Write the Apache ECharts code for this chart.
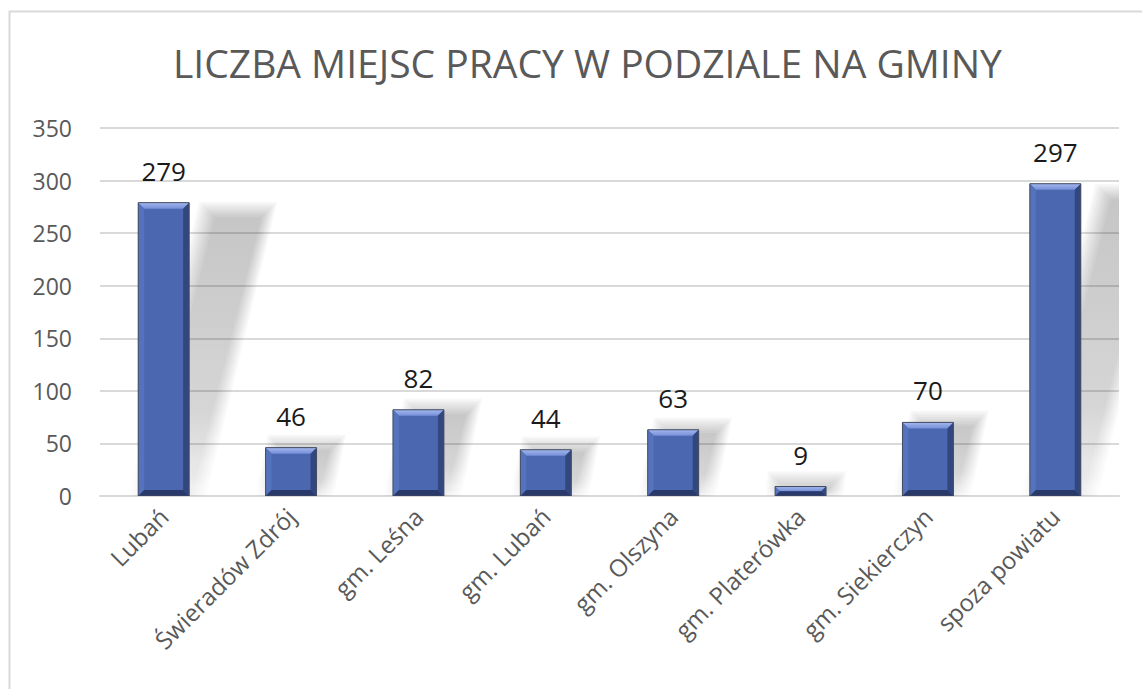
<!DOCTYPE html>
<html>
<head>
<meta charset="utf-8">
<script src="https://cdn.jsdelivr.net/npm/echarts@6/dist/echarts.min.js"></script>
<style>
html,body{margin:0;padding:0;background:#fff;}
#chart{width:1142px;height:689px;}
</style>
</head>
<body>
<div id="chart"></div>
<script>
const titleText = 'LICZBA MIEJSC PRACY W PODZIALE NA GMINY';
const categories = ['Lubań','Świeradów Zdrój','gm. Leśna','gm. Lubań','gm. Olszyna','gm. Platerówka','gm. Siekierczyn','spoza powiatu'];
const values = [279, 46, 82, 44, 63, 9, 70, 297];
const yMin = 0, yMax = 350, yInterval = 50;

const FONT = '"Open Sans", "DejaVu Sans", sans-serif';
const chart = echarts.init(document.getElementById('chart'), null, {renderer: 'svg'});

function renderBar(params, api) {
  const idx = api.value(0);
  const v = api.value(1);
  const top = api.coord([idx, v]);
  const base = api.coord([idx, 0]);
  const w = api.size([1, 0])[0] * 0.40;
  const x0 = top[0] - w / 2, x1 = top[0] + w / 2;
  const yt = top[1], yb = base[1];
  const h = yb - yt;
  const b = Math.min(6, h / 2);
  const skew = h * 0.24;
  const sTop = yt + h * 0.05;
  const children = [];
  const layers = 8;
  for (let i = 0; i < layers; i++) {
    const d = i * 2.2;
    const a = 0.032;
    children.push({
      type: 'polygon',
      shape: {points: [
        [x0 + 6 - d, yb],
        [x1 + 2 + d, yb],
        [x1 + skew + 2 + d, sTop - d],
        [x0 + skew + 6 - d, sTop - d]
      ]},
      style: {
        fill: new echarts.graphic.LinearGradient(0, 0, 0, 1, [
          {offset: 0, color: 'rgba(0,0,0,' + a + ')'},
          {offset: 0.7, color: 'rgba(0,0,0,' + (a * 0.7) + ')'},
          {offset: 1, color: 'rgba(0,0,0,' + (a * 0.25) + ')'}
        ])
      },
      z2: 1
    });
  }
  children.push(
    {
      type: 'rect',
      shape: {x: x0, y: yt, width: w, height: h},
      style: {fill: '#4a67b0'},
      z2: 2
    },
    {
      type: 'polygon',
      shape: {points: [[x0, yt], [x1, yt], [x1 - b, yt + b], [x0 + b, yt + b]]},
      style: {fill: new echarts.graphic.LinearGradient(0, 0, 0, 1, [
        {offset: 0, color: '#a4b8ef'}, {offset: 1, color: '#7690d8'}])},
      z2: 3
    },
    {
      type: 'polygon',
      shape: {points: [[x0, yt], [x0 + b, yt + b], [x0 + b, yb - b], [x0, yb]]},
      style: {fill: '#5573bd'},
      z2: 3
    },
    {
      type: 'polygon',
      shape: {points: [[x1, yt], [x1 - b, yt + b], [x1 - b, yb - b], [x1, yb]]},
      style: {fill: '#33477f'},
      z2: 3
    },
    {
      type: 'polygon',
      shape: {points: [[x0, yb], [x1, yb], [x1 - b, yb - b], [x0 + b, yb - b]]},
      style: {fill: '#28396a'},
      z2: 3
    },
    {
      type: 'rect',
      shape: {x: x0, y: yt, width: w, height: h},
      style: {fill: 'none', stroke: '#454c60', lineWidth: 1},
      z2: 4
    },
    {
      type: 'text',
      x: top[0],
      y: yt - 32,
      style: {
        text: String(v),
        fill: '#1a1a1a',
        font: '26px ' + FONT,
        align: 'center',
        verticalAlign: 'middle'
      },
      z2: 5
    }
  );
  return {type: 'group', children: children};
}

const option = {
  backgroundColor: '#ffffff',
  animation: false,
  title: {
    text: titleText,
    left: 168,
    top: 38,
    textStyle: {fontFamily: FONT, fontSize: 39, fontWeight: 'normal', color: '#595959'}
  },
  graphic: [{
    type: 'rect',
    left: 7, top: 9,
    shape: {width: 1200, height: 800},
    style: {fill: 'none', stroke: '#d9d9d9', lineWidth: 2},
    silent: true
  }],
  grid: {left: 100, right: 23, top: 128, bottom: 193},
  xAxis: {
    type: 'category',
    data: categories,
    axisTick: {show: false},
    axisLine: {lineStyle: {color: '#d9d9d9', width: 2}},
    axisLabel: {
      rotate: 45,
      margin: 16,
      interval: 0,
      color: '#595959',
      fontFamily: FONT,
      fontSize: 24
    }
  },
  yAxis: {
    type: 'value',
    min: yMin, max: yMax, interval: yInterval,
    axisLine: {show: false},
    axisTick: {show: false},
    splitLine: {lineStyle: {color: '#d9d9d9', width: 2}},
    axisLabel: {color: '#595959', fontFamily: FONT, fontSize: 23, margin: 28}
  },
  series: [{
    type: 'custom',
    clip: true,
    data: values.map((v, i) => [i, v]),
    encode: {x: 0, y: 1},
    renderItem: renderBar
  }]
};
chart.setOption(option);
</script>
</body>
</html>
